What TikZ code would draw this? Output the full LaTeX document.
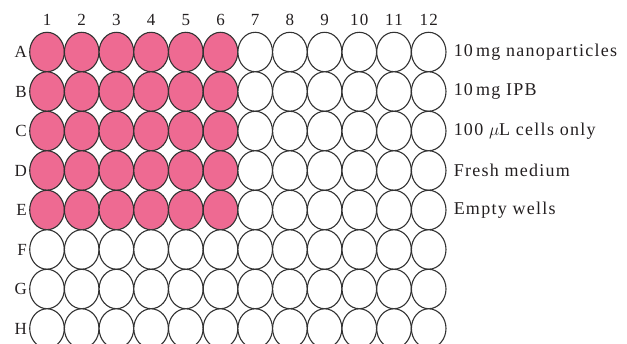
\documentclass[tikz,border=0pt]{standalone}
\usepackage{fontspec}
\setmainfont[LetterSpace=7]{Liberation Serif}
\usepackage{tikz}
\usetikzlibrary{shapes.geometric, positioning}
\definecolor{wellpink}{RGB}{238, 106, 146}
\definecolor{wellline}{RGB}{50, 50, 50}
\definecolor{labeltext}{RGB}{35, 31, 32}

\begin{document}
\begin{tikzpicture}[
    x=1pt, y=-1pt,
    well/.style={ellipse, draw=wellline, line width=1.1pt, minimum width=34.6pt, minimum height=39.4pt, inner sep=0pt, fill=white},
    filled/.style={well, fill=wellpink},
    axislabel/.style={font=\fontsize{17}{20}\selectfont, text=labeltext, inner sep=0pt},
    rowtext/.style={font=\fontsize{18}{21}\selectfont, text=labeltext, inner sep=0pt, anchor=west}
  ]
    \useasboundingbox (0,0) rectangle (627,344);
    % wells
    \foreach \r/\rl in {1/A,2/B,3/C,4/D,5/E,6/F,7/G,8/H} {
      \pgfmathsetmacro{\wy}{52+39.5*(\r-1)}
      \foreach \c in {1,...,12} {
        \pgfmathsetmacro{\wx}{47+34.7*(\c-1)}
        \ifnum\r<6 \ifnum\c<7
          \node (w\rl\c) [filled] at (\wx,\wy) {};
        \else
          \node (w\rl\c) [well] at (\wx,\wy) {};
        \fi \else
          \node (w\rl\c) [well] at (\wx,\wy) {};
        \fi
      }
      \node (row\rl) [axislabel, anchor=east] at (27,\wy) {\rl};
    }
    % column numbers
    \foreach \c in {1,...,12} {
      \pgfmathsetmacro{\wx}{47+34.7*(\c-1)}
      \node (col\c) [axislabel] at (\wx,20) {\c};
    }
    % legend
    \node (tA) [rowtext, right=7pt of wA12] {10\,mg nanoparticles};
    \node (tB) [rowtext, right=7pt of wB12] {10\,mg IPB};
    \node (tC) [rowtext, right=7pt of wC12] {100 $\mu$L cells only};
    \node (tD) [rowtext, right=7pt of wD12] {Fresh medium};
    \node (tE) [rowtext, right=7pt of wE12] {Empty wells};
  \end{tikzpicture}
\end{document}
